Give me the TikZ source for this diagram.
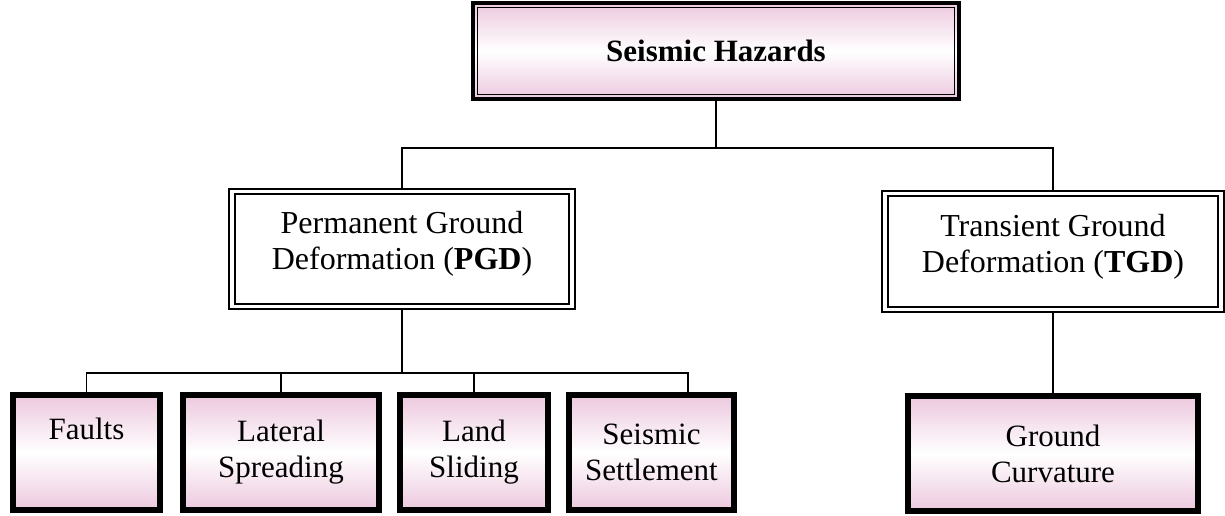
\documentclass[tikz,border=0pt]{standalone}
\usepackage{fontspec}
\setmainfont{Liberation Serif}
\definecolor{mypink}{RGB}{236,200,222}
\begin{document}
\begin{tikzpicture}[x=1pt,y=-1pt,
  every node/.style={font=\fontsize{31}{36}\selectfont, align=center, inner sep=0pt},
  pinkfill/.style={top color=mypink, bottom color=mypink, middle color=white},
  topbox/.style={pinkfill, draw=black, line width=3.5pt},
  midbox/.style={draw=black, fill=white, line width=2.2pt, double=white, double distance=3.5pt},
  leafbox/.style={pinkfill, draw=black, line width=6pt},
  conn/.style={draw=black, line width=1.8pt}]
\useasboundingbox (0,0) rectangle (1225,515);
\node[topbox, minimum width=486pt, minimum height=96pt] (top) at (716,51) {\textbf{Seismic Hazards}};
\draw[line width=1.3pt] ([shift={(6,6)}]top.north west) rectangle ([shift={(-6,-6)}]top.south east);
\node[midbox, minimum width=340pt, minimum height=115pt] (pgd) at (402,249) {};
\node[font=\fontsize{32}{36}\selectfont] (pgdt) at (402,244) {Permanent Ground\\Deformation (\textbf{PGD})};
\node[midbox, minimum width=336pt, minimum height=116pt] (tgd) at (1053,251.5) {};
\node[font=\fontsize{32}{36}\selectfont] (tgdt) at (1053,247) {Transient Ground\\Deformation (\textbf{TGD})};
\node[leafbox, minimum width=147pt, minimum height=115pt] (faults) at (86.5,452.5) {Faults\\\strut};
\node[leafbox, minimum width=196pt, minimum height=115pt] (lateral) at (281,452.5) {Lateral\\Spreading};
\node[leafbox, minimum width=148pt, minimum height=115pt] (land) at (474,452.5) {Land\\Sliding};
\node[leafbox, minimum width=165pt, minimum height=115pt] (seismic) at (651.5,452.5) {Seismic\\Settlement};
\node[leafbox, minimum width=290pt, minimum height=115pt] (curv) at (1053,453.5) {Ground\\Curvature};
\coordinate (j1) at (716,148);
\coordinate (j2) at (402,373);
\coordinate (sd) at (688,373);
\draw[conn] (top.south) -- (j1);
\draw[conn] (pgd.north) |- (j1) -| (tgd.north);
\draw[conn] (pgd.south) -- (j2);
\draw[conn] (faults.north) |- (j2);
\draw[conn] (lateral.north) -- (lateral.north |- j2);
\draw[conn] (land.north) -- (land.north |- j2);
\draw[conn] (j2) -- (sd) -- (sd |- seismic.north);
\draw[conn] (tgd.south) -- (curv.north);
\end{tikzpicture}
\end{document}
